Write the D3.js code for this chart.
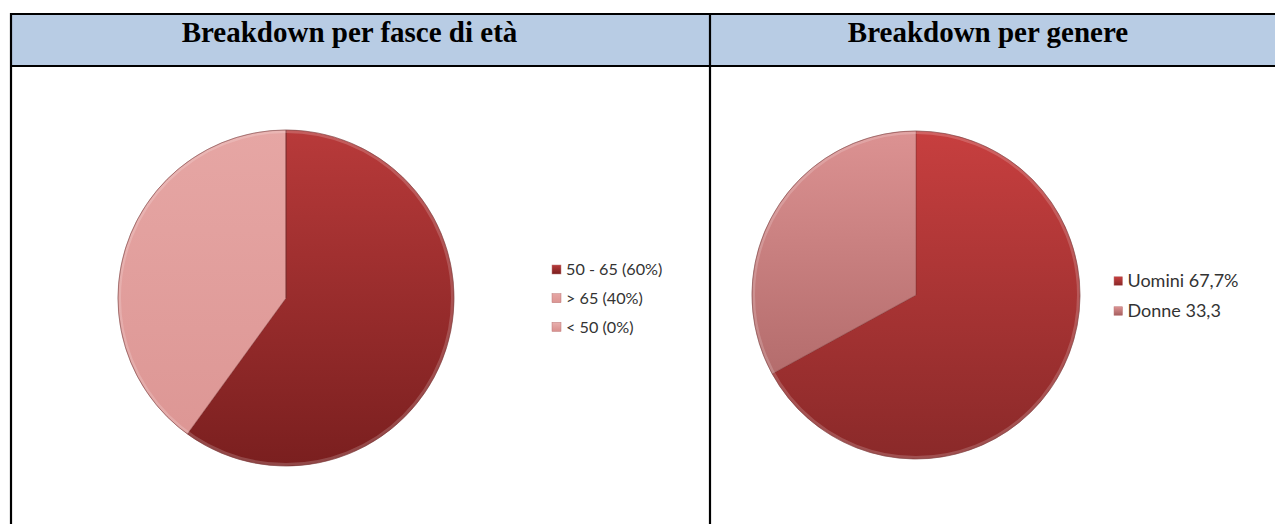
<!DOCTYPE html>
<html><head><meta charset="utf-8">
<script src="https://cdn.jsdelivr.net/npm/d3@7/dist/d3.min.js"></script>
<style>body{margin:0;background:#fff}svg{display:block}</style>
</head><body>
<svg id="c" width="1275" height="524"></svg>
<script>
const titles = ["Breakdown per fasce di età", "Breakdown per genere"];
const ageCategories = ["50 - 65 (60%)", "> 65 (40%)", "< 50 (0%)"];
const ageValues = [60, 40, 0];
const genderCategories = ["Uomini 67,7%", "Donne 33,3"];
const genderValues = [67.7, 33.3];

const ageColors = [["#b83a3a", "#7a1f1f"], ["#e6a6a4", "#dc9593"], ["#e8b0ae", "#d98f8d"]];
const genderColors = [["#c73f3f", "#8a2929"], ["#dc9292", "#a65f5f"]];

const svg = d3.select("#c");
const defs = svg.append("defs");

// table
svg.append("rect").attr("x", 11).attr("y", 14).attr("width", 1275).attr("height", 52).attr("fill", "#b8cce4");
const line = (x1, y1, x2, y2) => svg.append("line").attr("x1", x1).attr("y1", y1).attr("x2", x2).attr("y2", y2)
  .attr("stroke", "#000").attr("stroke-width", 2.2);
line(10, 14, 1275, 14);
line(10, 66, 1275, 66);
line(11, 13, 11, 524);
line(710, 13, 710, 524);

svg.selectAll("text.title").data(titles).join("text")
  .attr("class", "title")
  .attr("x", (d, i) => i === 0 ? 349.5 : 988)
  .attr("y", 41.5)
  .attr("text-anchor", "middle")
  .attr("font-family", "'Liberation Serif', 'Times New Roman', serif")
  .attr("font-weight", "bold")
  .attr("font-size", 29)
  .attr("fill", "#000")
  .text(d => d);

function drawPie(id, cx, cy, r, values, cats, colors, legX, legY, legStep, fs, sw) {
  const g = svg.append("g").attr("transform", `translate(${cx},${cy})`);
  colors.forEach((c, i) => {
    const lg = defs.append("linearGradient").attr("id", `${id}g${i}`)
      .attr("gradientUnits", "userSpaceOnUse").attr("x1", 0).attr("y1", -r).attr("x2", 0).attr("y2", r);
    lg.append("stop").attr("offset", "0%").attr("stop-color", c[0]);
    lg.append("stop").attr("offset", "100%").attr("stop-color", c[1]);
    const lg2 = defs.append("linearGradient").attr("id", `${id}s${i}`)
      .attr("x1", 0).attr("y1", 0).attr("x2", 0).attr("y2", 1);
    lg2.append("stop").attr("offset", "0%").attr("stop-color", c[0]);
    lg2.append("stop").attr("offset", "100%").attr("stop-color", c[1]);
  });
  const pie = d3.pie().sort(null).value(d => d)(values);
  const arc = d3.arc().innerRadius(0).outerRadius(r);
  g.selectAll("path.s").data(pie).join("path").attr("class", "s")
    .attr("d", arc)
    .attr("fill", (d, i) => `url(#${id}g${i})`)
    .attr("stroke", "#7a3030").attr("stroke-opacity", 0.5).attr("stroke-width", 0.8);
  // edge bevel
  g.append("circle").attr("r", r - 1.5).attr("fill", "none").attr("stroke", "#fff").attr("stroke-opacity", 0.18).attr("stroke-width", 3);
  g.append("circle").attr("r", r).attr("fill", "none").attr("stroke", "#6a2a2a").attr("stroke-opacity", 0.35).attr("stroke-width", 1);

  const lg = svg.append("g");
  const rows = lg.selectAll("g").data(cats).join("g")
    .attr("transform", (d, i) => `translate(${legX},${legY + i * legStep})`);
  rows.append("rect").attr("x", 0).attr("y", -sw / 2).attr("width", sw).attr("height", sw)
    .attr("fill", (d, i) => `url(#${id}s${i})`).attr("stroke", "#b77").attr("stroke-width", 0.5);
  rows.append("text").attr("x", sw + 5).attr("y", 0).attr("dy", "0.35em")
    .attr("font-family", "Lato, 'Open Sans', sans-serif").attr("font-size", fs).attr("fill", "#333")
    .text(d => d);
}

drawPie("a", 286, 298, 168, ageValues, ageCategories, ageColors, 552, 269.5, 28.7, 16.2, 9);
drawPie("b", 916, 295, 164, genderValues, genderCategories, genderColors, 1114, 281, 30, 18, 8.5);
</script>
</body></html>
